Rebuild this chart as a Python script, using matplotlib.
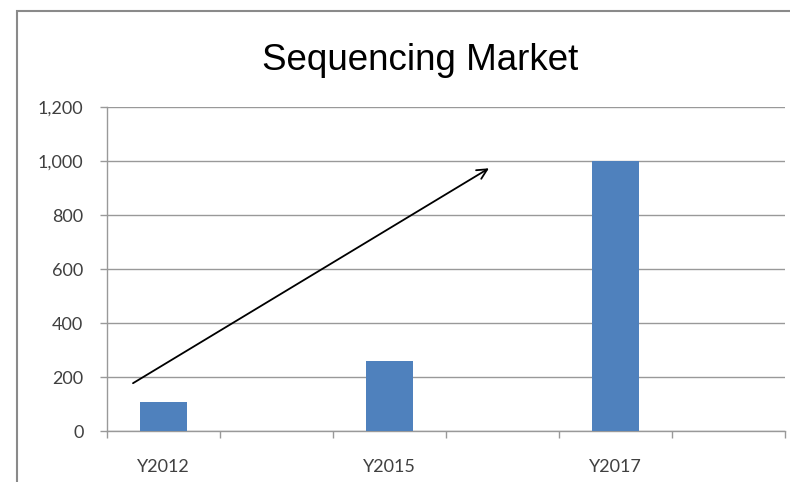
import numpy as np
import matplotlib
matplotlib.use("Agg")
import matplotlib.pyplot as plt
from matplotlib.patches import Rectangle

# data
categories = ["Y2012", "", "Y2015", "", "Y2017", ""]
values = [108, 0, 260, 0, 1000, 0]
y_ticks = [0, 200, 400, 600, 800, 1000, 1200]
title = "Sequencing Market"

# trend arrow (in data coords)
arrow_start = (-0.27, 177)
arrow_end = (2.88, 973)

GRID = "#999999"
BAR = "#4f81bd"

fig = plt.figure(figsize=(7.9, 4.82), dpi=100)
fig.patch.set_facecolor("white")

# outer chart frame (cut off at right/bottom like the reference)
fig.patches.append(Rectangle((17 / 790, -0.05), 1.1, 1 - 11 / 482 + 0.05,
                             transform=fig.transFigure, fill=False,
                             edgecolor="#8a8a8a", linewidth=1.5))

ax = fig.add_axes([107 / 790, 51 / 482, 678 / 790, 324 / 482])
x = np.arange(len(categories))
ax.bar(x, values, width=0.41, color=BAR, zorder=3)

ax.set_xlim(-0.5, len(categories) - 0.5)
ax.set_ylim(0, 1200)
ax.set_yticks(y_ticks)
ax.set_yticklabels([f"{v:,}" for v in y_ticks])
ax.grid(axis="y", color=GRID, linewidth=1, zorder=0)

ax.set_xticks(np.arange(-0.5, len(categories), 1.0))
ax.set_xticklabels([])
ax.set_xticks(x, minor=True)
ax.set_xticklabels(categories, minor=True)
ax.tick_params(axis="x", which="major", length=5, color=GRID, width=1)
ax.tick_params(axis="x", which="minor", length=0, pad=20)
ax.tick_params(axis="y", length=5, color=GRID, width=1, pad=12)
for lbl in ax.get_xticklabels(minor=True) + ax.get_yticklabels():
    lbl.set_fontfamily("Lato")
    lbl.set_fontsize(13)
    lbl.set_color("#404040")

for side in ["top", "right"]:
    ax.spines[side].set_visible(False)
for side in ["left", "bottom"]:
    ax.spines[side].set_color(GRID)
    ax.spines[side].set_linewidth(1)

ax.annotate("", xy=arrow_end, xytext=arrow_start,
            arrowprops=dict(arrowstyle="->", color="black", lw=1.3,
                            mutation_scale=18, shrinkA=0, shrinkB=0),
            zorder=5)

fig.text(420 / 790, 1 - 60 / 482, title, ha="center", va="center",
         fontfamily="Liberation Sans", fontsize=26.5, color="black")

fig.savefig("out.png", dpi=100, facecolor="white")
